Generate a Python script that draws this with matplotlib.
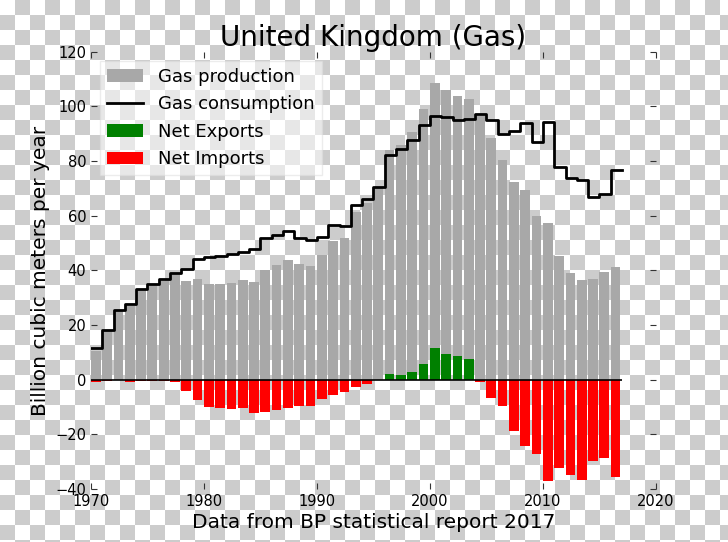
import numpy as np
import matplotlib
matplotlib.use("Agg")
import matplotlib.pyplot as plt
from matplotlib.colors import ListedColormap

# UK natural gas, billion cubic meters per year
years = list(range(1970, 2017))
production = [10.7, 17.9, 25.4, 27.1, 32.7, 34.4, 36.2, 38.2, 36.3, 36.8,
              35.0, 35.0, 35.4, 36.6, 35.7, 40.0, 42.1, 43.9, 42.3, 41.5,
              45.5, 50.8, 51.7, 61.5, 64.7, 70.4, 84.2, 86.0, 90.5, 99.1,
              108.4, 105.9, 103.7, 102.9, 96.4, 88.4, 80.3, 72.2, 69.6, 59.8,
              57.3, 45.4, 39.0, 36.6, 37.0, 39.6, 41.1]
consumption = [11.6, 18.3, 25.6, 27.8, 33.2, 35.0, 36.8, 39.0, 40.5, 44.2,
               44.8, 45.4, 46.0, 46.8, 47.8, 51.8, 53.1, 54.3, 51.8, 51.0,
               52.4, 56.5, 56.3, 64.0, 66.2, 70.5, 82.2, 84.4, 87.8, 93.3,
               96.6, 96.3, 95.1, 95.4, 97.3, 94.9, 90.0, 90.9, 93.9, 87.0,
               94.2, 77.8, 73.8, 73.2, 66.7, 68.1, 76.8]

x_ticks = [1970, 1980, 1990, 2000, 2010, 2020]
y_ticks = [-40, -20, 0, 20, 40, 60, 80, 100, 120]

yrs = np.array(years)
prod = np.array(production)
cons = np.array(consumption)
net = prod - cons
exports = np.where(net > 0, net, 0)
imports = np.where(net < 0, net, 0)

fig = plt.figure(figsize=(7.28, 5.42), dpi=100)

# transparent-background checkerboard, as in the reference image
bg = fig.add_axes([0, 0, 1, 1], zorder=-1)
H, W = 542, 728
jj, ii = np.meshgrid(np.arange(W), np.arange(H))
checker = ((ii // 15) + (jj // 15)) % 2
bg.imshow(checker, cmap=ListedColormap(["white", "#cccccc"]),
          aspect="auto", interpolation="nearest")
bg.axis("off")

ax = fig.add_axes([0.125, 0.0975, 0.776, 0.807])
ax.patch.set_alpha(0)

bw = 0.86
ax.bar(yrs, prod, width=bw, align="edge", color="#a8a8a8",
       label="Gas production", zorder=2)
ax.bar(yrs, exports, width=bw, align="edge", color="green",
       label="Net Exports", zorder=3)
ax.bar(yrs, imports, width=bw, align="edge", color="red",
       label="Net Imports", zorder=3)

# consumption as a step line, one step per year
xs = np.append(yrs, yrs[-1] + 1)
ys = np.append(cons, cons[-1])
ax.plot(xs, ys, drawstyle="steps-post", color="black", lw=2,
        label="Gas consumption", zorder=4)
ax.hlines(0, yrs[0], yrs[-1] + 1, color="black", lw=1.2, zorder=5)

ax.set_xlim(1970, 2020)
ax.set_ylim(-40, 120)
ax.set_xticks(x_ticks)
ax.set_yticks(y_ticks)
ax.tick_params(direction="in", length=4, top=True, right=True,
               labelsize=10.5, color="#333333")
for s in ax.spines.values():
    s.set_visible(False)

ax.set_title("United Kingdom (Gas)", fontsize=20, pad=4)
ax.set_xlabel("Data from BP statistical report 2017", fontsize=14.5, labelpad=3)
ax.set_ylabel("Billion cubic meters per year", fontsize=14.5, labelpad=4)

h, l = ax.get_legend_handles_labels()
order = [l.index(n) for n in ["Gas production", "Gas consumption",
                              "Net Exports", "Net Imports"]]
leg = ax.legend([h[i] for i in order], [l[i] for i in order],
                loc="upper left", fontsize=13, fancybox=False,
                framealpha=0.55, edgecolor="#dddddd", labelspacing=0.52)

fig.savefig("out.png", dpi=100)
